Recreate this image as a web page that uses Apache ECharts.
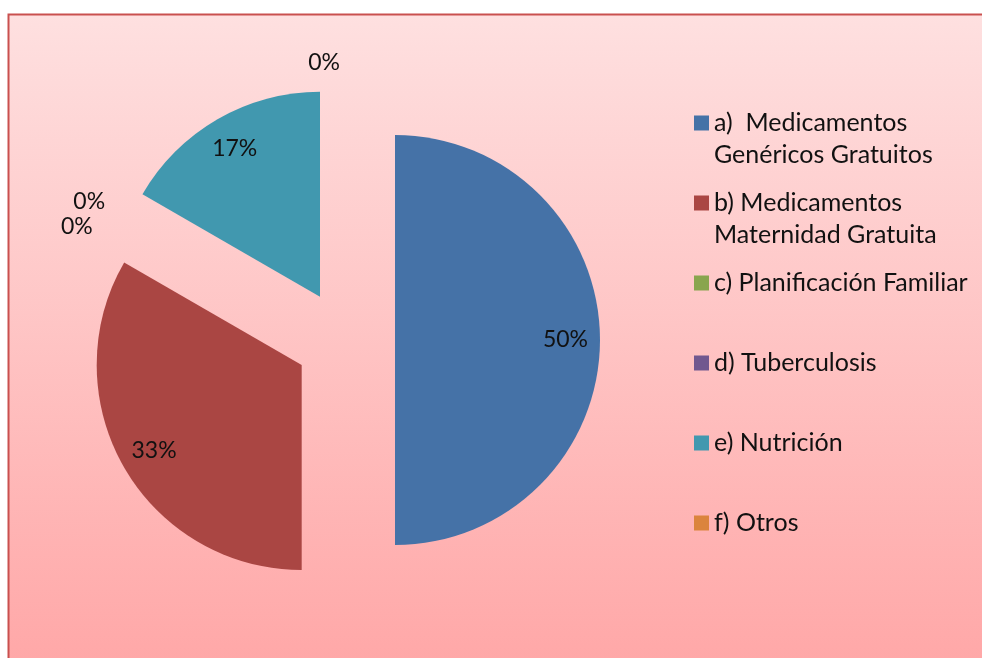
<!DOCTYPE html>
<html>
<head>
<meta charset="utf-8">
<title>Programas</title>
<script src="https://cdn.jsdelivr.net/npm/echarts@6/dist/echarts.min.js"></script>
<style>
  html, body { margin: 0; padding: 0; background: #ffffff; }
  #chart { width: 982px; height: 658px; }
</style>
</head>
<body>
<div id="chart"></div>
<script>
/* ===== data ===== */
const categories = [
  'a)  Medicamentos\nGenéricos Gratuitos',
  'b) Medicamentos\nMaternidad Gratuita',
  'c) Planificación Familiar',
  'd) Tuberculosis',
  'e) Nutrición',
  'f) Otros',
];
const counts = [3, 2, 0, 0, 1, 0];
const sliceColors = ['#4572A7', '#AA4643', '#89A54E', '#71588F', '#4198AF', '#DB843D'];

const fontFamily = 'Lato, "Open Sans", sans-serif';
const center = [345, 340];
const radius = 205;
const explode = 50;

const total = counts.reduce((s, v) => s + v, 0);
const pct = v => Math.round(v / total * 100) + '%';

const chart = echarts.init(document.getElementById('chart'));

// main slices; zero slices carry their label outside
const mainData = categories.map((name, i) => ({
  name,
  value: counts[i],
  selected: true,
  itemStyle: { color: sliceColors[i] },
  label: counts[i] === 0
    ? { show: true, position: 'outside' }
    : { show: false },
  labelLine: { show: false },
}));

// transparent ring used only to place the non-zero labels near the rim
const ringData = categories.map((name, i) => ({
  name,
  value: counts[i],
  selected: true,
  label: { show: counts[i] !== 0 },
}));

// one legend per item so each row sits on its own line like the original
const legends = categories.map((name, i) => {
  const lines = name.split('\n').length;
  const markerY = 123 + i * 80;
  return {
    orient: 'vertical',
    left: 694,
    top: lines > 1 ? markerY - 48 : markerY - 16,
    padding: 0,
    icon: 'rect',
    itemWidth: 15,
    itemHeight: 15,
    selectedMode: false,
    data: [name],
    formatter: n => (n.indexOf('\n') >= 0 ? '\n' + n : n),
    textStyle: { color: '#111111', fontSize: 25, lineHeight: 32, fontFamily },
  };
});

chart.setOption({
  animation: false,
  graphic: [{
    type: 'rect',
    silent: true,
    z: -10,
    shape: { x: 8.5, y: 14.5, width: 1000, height: 700 },
    style: {
      fill: {
        type: 'linear', x: 0, y: 0, x2: 0, y2: 1,
        colorStops: [
          { offset: 0, color: '#fee0e0' },
          { offset: 1, color: '#ffa3a3' },
        ],
      },
      stroke: '#c9504f',
      lineWidth: 2,
    },
  }],
  legend: legends,
  series: [
    {
      name: 'main',
      type: 'pie',
      center,
      radius,
      startAngle: 90,
      clockwise: true,
      selectedMode: 'multiple',
      selectedOffset: explode,
      avoidLabelOverlap: true,
      minShowLabelAngle: 0,
      silent: true,
      label: {
        color: '#111111',
        fontSize: 23,
        fontFamily,
        formatter: p => pct(p.value),
      },
      labelLine: { show: false, length: 22, length2: 0 },
      itemStyle: { borderWidth: 0 },
      emphasis: { disabled: true },
      data: mainData,
    },
    {
      name: 'labels',
      type: 'pie',
      center,
      radius: [130, radius],
      startAngle: 90,
      clockwise: true,
      selectedMode: 'multiple',
      selectedOffset: explode,
      silent: true,
      itemStyle: { color: 'rgba(0,0,0,0)' },
      label: {
        position: 'inside',
        color: '#111111',
        fontSize: 23,
        fontFamily,
        formatter: p => pct(p.value),
      },
      labelLine: { show: false },
      emphasis: { disabled: true },
      data: ringData,
    },
  ],
});

window.addEventListener('resize', () => chart.resize());
</script>
</body>
</html>
